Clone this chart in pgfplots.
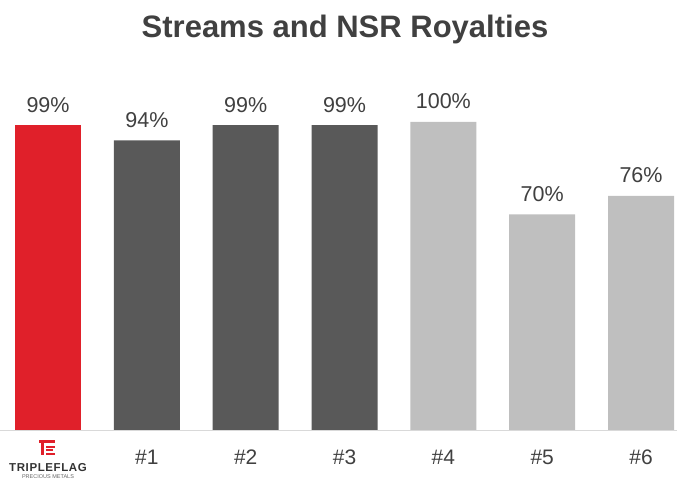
\documentclass[border=0pt]{standalone}
\usepackage{pgfplots}
\pgfplotsset{compat=1.18}
\usepackage{fontspec}
\setmainfont{Liberation Sans}
\definecolor{tfred}{HTML}{E0202A}
\definecolor{dgray}{HTML}{595959}
\definecolor{lgray}{HTML}{BFBFBF}
\definecolor{txt}{HTML}{404040}
\definecolor{axl}{HTML}{D9D9D9}
\begin{document}
\begin{tikzpicture}[x=1bp,y=1bp]
\path[use as bounding box] (0,-50) rectangle (677,430);
\begin{axis}[
  at={(0,0)}, anchor=south west,
  scale only axis, width=677bp, height=308bp,
  xmin=-0.486, xmax=6.364, ymin=0, ymax=100,
  axis x line=bottom, axis y line=none,
  x axis line style={draw=axl, line width=1pt, -},
  xtick={0,1,2,3,4,5,6},
  xticklabels={,\#1,\#2,\#3,\#4,\#5,\#6},
  major tick length=0pt,
  xticklabel style={anchor=base, yshift=-35bp, inner sep=0pt, font=\fontsize{21bp}{24bp}\selectfont, text=txt},
  ybar, bar width=66bp,
  clip=false,
  /pgf/number format/assume math mode=true,
  nodes near coords={\pgfmathprintnumber{\pgfplotspointmeta}\%},
  nodes near coords style={anchor=base, inner sep=0pt, yshift=13bp, font=\fontsize{21.5bp}{24bp}\selectfont, text=txt},
]
\addplot[fill=tfred, draw=none, bar shift=0pt] coordinates {(0,99)};
\addplot[fill=dgray, draw=none, bar shift=0pt] coordinates {(1,94) (2,99) (3,99)};
\addplot[fill=lgray, draw=none, bar shift=0pt] coordinates {(4,100) (5,70) (6,76)};
\end{axis}
\node[font=\bfseries\fontsize{31bp}{36bp}\selectfont, text=txt] at (345,401) {Streams and NSR Royalties};
% logo
\fill[tfred] (39,-10) rectangle (55,-13.5);
\fill[tfred] (40.5,-13.5) rectangle (44,-25);
\fill[tfred] (46,-16) rectangle (55,-18);
\fill[tfred] (46,-19.5) rectangle (53,-21.5);
\fill[tfred] (46,-23) rectangle (55,-25);
\node[anchor=base, inner sep=0pt, font=\bfseries\fontsize{11.5bp}{13bp}\selectfont, text=black!80] at (48,-42) {T\kern0.6bp R\kern0.6bp I\kern0.6bp P\kern0.6bp L\kern0.6bp E\kern0.6bp F\kern0.6bp L\kern0.6bp A\kern0.6bp G};
\node[anchor=base, inner sep=0pt, font=\fontsize{5.5bp}{7bp}\selectfont, text=black!60] at (48,-49) {PRECIOUS METALS};
\end{tikzpicture}
\end{document}
